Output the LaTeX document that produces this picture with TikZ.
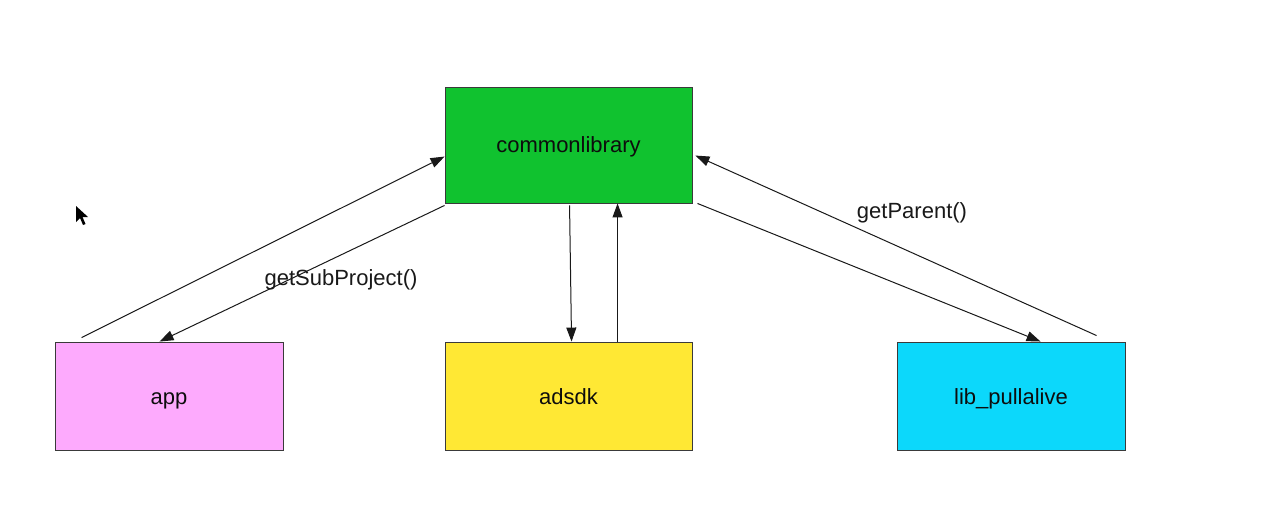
\documentclass[tikz,border=0pt]{standalone}
\usepackage{fontspec}
\setmainfont{Liberation Sans}
\usetikzlibrary{arrows.meta,calc}
\definecolor{clgreen}{HTML}{10C22F}
\definecolor{apppink}{HTML}{FDAAFD}
\definecolor{adsyellow}{HTML}{FFE834}
\definecolor{libcyan}{HTML}{0CD8FB}
\definecolor{edgegray}{HTML}{3A3A3A}
\tikzset{
  box/.style={draw=edgegray, line width=0.9pt, rectangle, inner sep=0pt,
    font=\fontsize{22}{26}\selectfont, text=black!95, text height=18pt, text depth=2pt},
  conn/.style={line width=1pt, draw=black!90, -{Triangle[length=14pt,width=10pt]}},
  lbl/.style={font=\fontsize{22}{26}\selectfont, text=black!90, inner sep=0pt},
}
\begin{document}
\begin{tikzpicture}[x=1pt,y=-1pt]
\useasboundingbox[fill=white] (0,0) rectangle (1271,516);
\node[box, fill=clgreen, minimum width=247pt, minimum height=116pt] (cl) at (568.5,145) {commonlibrary};
\node[box, fill=apppink, minimum width=228pt, minimum height=108pt] (app) at (169,396) {app};
\node[box, fill=adsyellow, minimum width=247pt, minimum height=108pt] (ads) at (568.5,396) {adsdk};
\node[box, fill=libcyan, minimum width=228pt, minimum height=108pt] (lib) at (1011,396) {lib\_pullalive};
% connectors
\draw[conn] ($(app.north west)+(27,-4)$) -- ($(cl.north west)+(0,70)$);
\draw[conn] ($(cl.south west)+(0,2)$) -- ($(app.north west)+(105,0)$);
\draw[conn] ($(cl.south west)+(125,2)$) -- ($(ads.north west)+(127,0)$);
\draw[conn] ($(ads.north west)+(173,0)$) -- ($(cl.south west)+(173,0)$);
\draw[conn] ($(cl.south east)+(5,0)$) -- ($(lib.north west)+(144,0)$);
\draw[conn] ($(lib.north west)+(200,-6)$) -- ($(cl.north east)+(3,69)$);
% labels
\node[lbl] (lsub) at (341,280) {getSubProject()};
\node[lbl] (lpar) at (912,213) {getParent()};
% mouse pointer
\fill[black] (76,206) -- (76,222) -- (80,218) -- (83,225) -- (85.5,224) -- (82.5,217) -- (88,217) -- cycle;
\end{tikzpicture}
\end{document}
